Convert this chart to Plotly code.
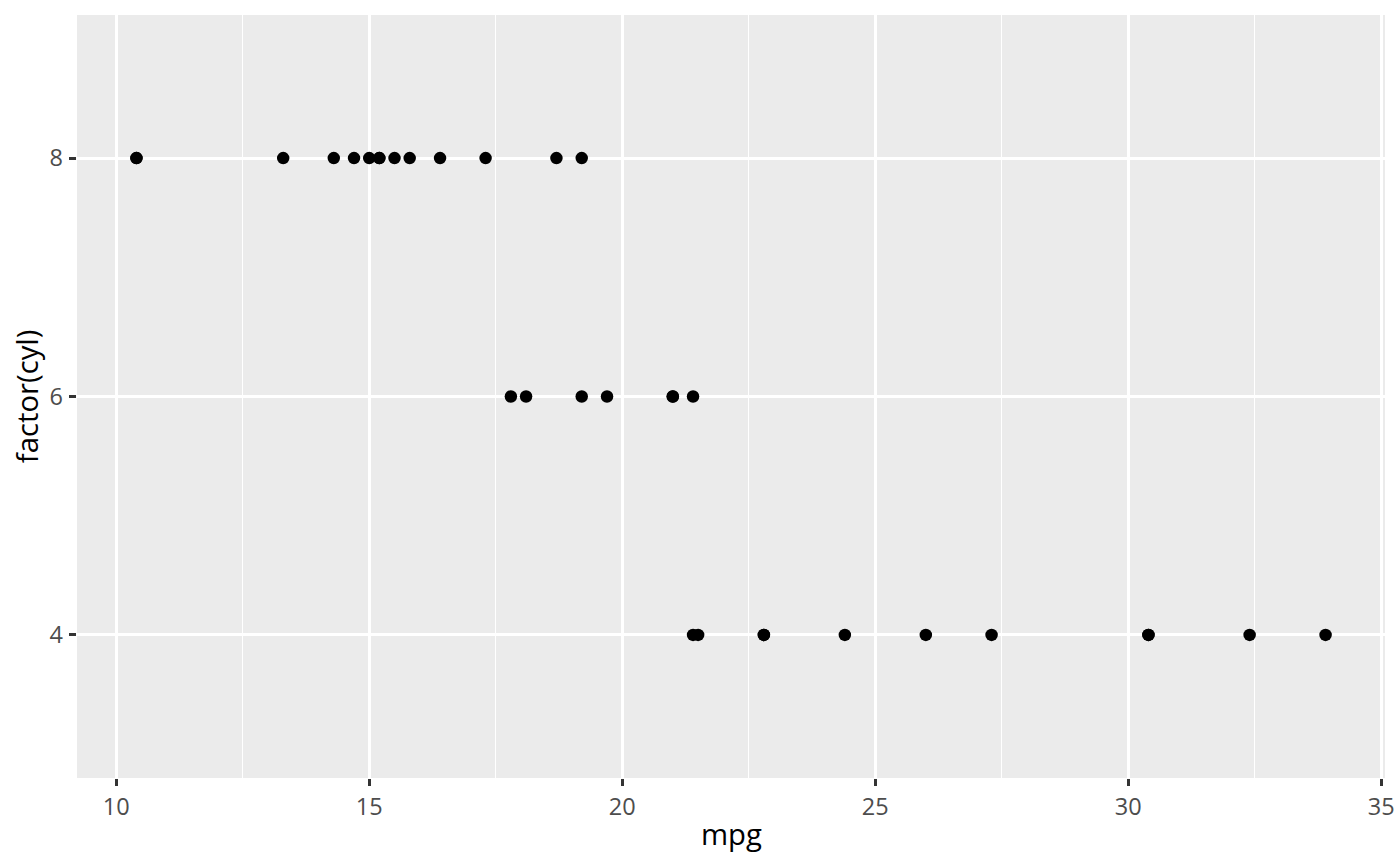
import plotly.graph_objects as go

mpg = [21.0, 21.0, 22.8, 21.4, 18.7, 18.1, 14.3, 24.4, 22.8, 19.2, 17.8,
       16.4, 17.3, 15.2, 10.4, 10.4, 14.7, 32.4, 30.4, 33.9, 21.5, 15.5,
       15.2, 13.3, 19.2, 27.3, 26.0, 30.4, 15.8, 19.7, 15.0, 21.4]
cyl = [6, 6, 4, 6, 8, 6, 8, 4, 4, 6, 6,
       8, 8, 8, 8, 8, 8, 4, 4, 4, 4, 8,
       8, 8, 8, 4, 4, 4, 8, 6, 8, 4]
x_ticks = [10, 15, 20, 25, 30, 35]
y_ticks = [4, 6, 8]

FONT = "Open Sans"
W, H = 1400, 866
L, R, T, B = 77, 15, 15, 88
PW, PH = W - L - R, H - T - B

fig = go.Figure()
fig.add_trace(go.Scatter(
    x=mpg, y=cyl, mode="markers",
    marker=dict(color="black", size=12.5, line=dict(width=0)),
    hoverinfo="x+y", showlegend=False,
))

fig.update_layout(
    width=W, height=H,
    margin=dict(l=L, r=R, t=T, b=B, pad=0, autoexpand=False),
    paper_bgcolor="white",
    plot_bgcolor="#EBEBEB",
    font=dict(family=FONT, color="#4D4D4D"),
    showlegend=False,
)

fig.update_xaxes(
    range=[9.225, 35.075],
    tickvals=x_ticks, ticktext=[str(v) for v in x_ticks],
    showgrid=True, gridcolor="white", gridwidth=2.8,
    minor=dict(dtick=2.5, tick0=12.5, showgrid=True, gridcolor="white", gridwidth=1.4),
    ticks="outside", ticklen=7.3, tickwidth=2.8, tickcolor="#333333",
    tickfont=dict(size=23.5, color="#4D4D4D", family=FONT),
    ticklabelstandoff=0, automargin=False,
    zeroline=False, showline=False,
)
fig.update_yaxes(
    range=[2.8, 9.2],
    tickvals=y_ticks, ticktext=[str(v) for v in y_ticks],
    showgrid=True, gridcolor="white", gridwidth=2.8,
    ticks="outside", ticklen=7.3, tickwidth=2.8, tickcolor="#333333",
    tickfont=dict(size=23.5, color="#4D4D4D", family=FONT),
    ticklabelstandoff=1, automargin=False,
    zeroline=False, showline=False,
)

fig.add_annotation(
    text="mpg", xref="paper", yref="paper",
    x=0.5, y=-(834 - (H - B)) / PH,
    xanchor="center", yanchor="middle", showarrow=False,
    font=dict(size=29.3, color="black", family=FONT),
)
fig.add_annotation(
    text="factor(cyl)", xref="paper", yref="paper",
    x=(26.7 - L) / PW, y=0.5,
    xanchor="center", yanchor="middle", textangle=-90, showarrow=False,
    font=dict(size=29.3, color="black", family=FONT),
)

fig.write_html("out.html", config={"displayModeBar": False},
               post_script="document.body.style.margin='0';")
